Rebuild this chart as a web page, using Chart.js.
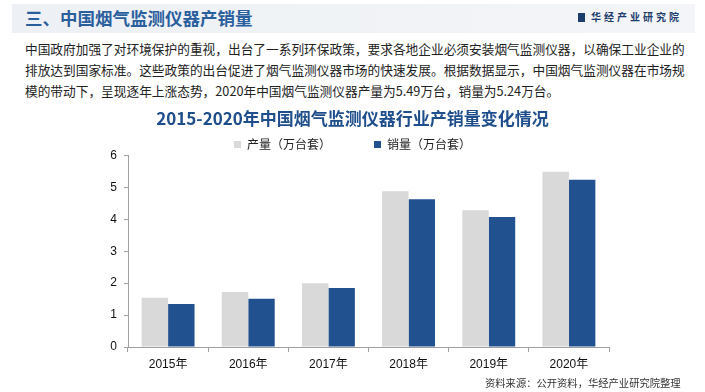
<!DOCTYPE html>
<html>
<head>
<meta charset="utf-8">
<script src="https://cdn.jsdelivr.net/npm/chart.js@4"></script>
<style>
  body { margin: 0; width: 705px; height: 392px; background: #fff; position: relative; overflow: hidden;
         font-family: "Noto Sans CJK SC", "Liberation Sans", sans-serif; }
  .band { position: absolute; left: 12px; top: 4px; width: 683px; height: 29px;
          background: linear-gradient(to right, #edf0f4, #f3f5f8); }
  .head { position: absolute; left: 25px; top: 5px; font-size: 17.5px; font-weight: bold; color: #2a5f9e;
          line-height: 26px; }
  .logo { position: absolute; left: 578px; top: 10px; font-size: 10px; font-weight: bold; color: #1d3d6e;
          letter-spacing: 3px; line-height: 14px; }
  .logo i { display: inline-block; width: 7px; height: 9px; background: #1d3d6e; margin-right: 6px; vertical-align: -1px; }
  .para { position: absolute; left: 25px; top: 38px; font-size: 12.7px; line-height: 21px; color: #222; white-space: nowrap; }
  .src { position: absolute; left: 485px; top: 375px; font-size: 10.3px; color: #333; white-space: nowrap; }
  .wrap { position: absolute; left: 0; top: 100px; width: 705px; height: 292px; }
</style>
</head>
<body>
<div class="band"></div>
<div class="head">三、中国烟气监测仪器产销量</div>
<div class="logo"><i></i>华经产业研究院</div>
<div class="para">中国政府加强了对环境保护的重视，出台了一系列环保政策，要求各地企业必须安装烟气监测仪器，以确保工业企业的<br>排放达到国家标准。这些政策的出台促进了烟气监测仪器市场的快速发展。根据数据显示，中国烟气监测仪器在市场规<br>模的带动下，呈现逐年上涨态势，2020年中国烟气监测仪器产量为5.49万台，销量为5.24万台。</div>
<div class="wrap"><canvas id="barCanvas"></canvas></div>
<div class="src">资料来源：公开资料，华经产业研究院整理</div>
<script>
const years = ["2015年", "2016年", "2017年", "2018年", "2019年", "2020年"];
const production = [1.54, 1.72, 2.0, 4.88, 4.28, 5.49];
const sales = [1.35, 1.51, 1.85, 4.63, 4.07, 5.24];
const seriesNames = ["产量（万台套）", "销量（万台套）"];
const yTicks = [0, 1, 2, 3, 4, 5, 6];

const fontFam = "'Liberation Sans', 'Noto Sans CJK SC', sans-serif";

const barCanvas = document.getElementById("barCanvas");

const barChart = new Chart(barCanvas, {
  type: "bar",
  data: {
    labels: years,
    datasets: [{
      label: seriesNames[0],
      data: production,
      backgroundColor: "#d9d9d9"
    }, {
      label: seriesNames[1],
      data: sales,
      backgroundColor: "#21518f"
    }]
  },
  options: {
    responsive: true,
    maintainAspectRatio: false,
    animation: false,
    categoryPercentage: 0.66,
    barPercentage: 1.0,
    layout: { padding: { left: 0, right: 0, top: 0, bottom: 18 } },
    plugins: {
      tooltip: { enabled: false },
      title: {
        display: true,
        text: "2015-2020年中国烟气监测仪器行业产销量变化情况",
        color: "#1f4e8c",
        font: { family: "'Noto Sans CJK SC', sans-serif", size: 17, weight: "bold" },
        padding: { top: 8, bottom: 9 }
      },
      legend: {
        maxHeight: 18,
        labels: {
          boxWidth: 7,
          boxHeight: 7,
          padding: 1,
          color: "#222",
          font: { family: "'Noto Sans CJK SC', sans-serif", size: 12 },
          generateLabels(chart) {
            const items = Chart.defaults.plugins.legend.labels.generateLabels(chart);
            items[0].text = items[0].text + "\u3000\u3000\u3000\u3000";
            items.forEach(it => { it.lineWidth = 0; });
            return items;
          }
        }
      }
    },
    scales: {
      x: {
        grid: { drawOnChartArea: false, tickLength: 5, color: "#a0a0a0" },
        border: { color: "#a0a0a0" },
        ticks: { color: "#111", padding: 5, font: { family: fontFam, size: 12 } },
        afterFit(scale) { scale.height = 27; }
      },
      y: {
        min: 0,
        max: 6,
        afterBuildTicks(scale) { scale.ticks = yTicks.map(v => ({ value: v })); },
        grid: { drawOnChartArea: false, tickLength: 4, color: "#a0a0a0" },
        border: { color: "#a0a0a0" },
        ticks: { color: "#111", padding: 7, font: { family: fontFam, size: 12 } },
        afterFit(scale) { scale.width = 128; }
      },
      spacer: {
        type: "linear",
        position: "right",
        grid: { display: false },
        border: { display: false },
        ticks: { display: false },
        afterFit(scale) { scale.width = 96; }
      }
    }
  }
});
</script>
</body>
</html>
